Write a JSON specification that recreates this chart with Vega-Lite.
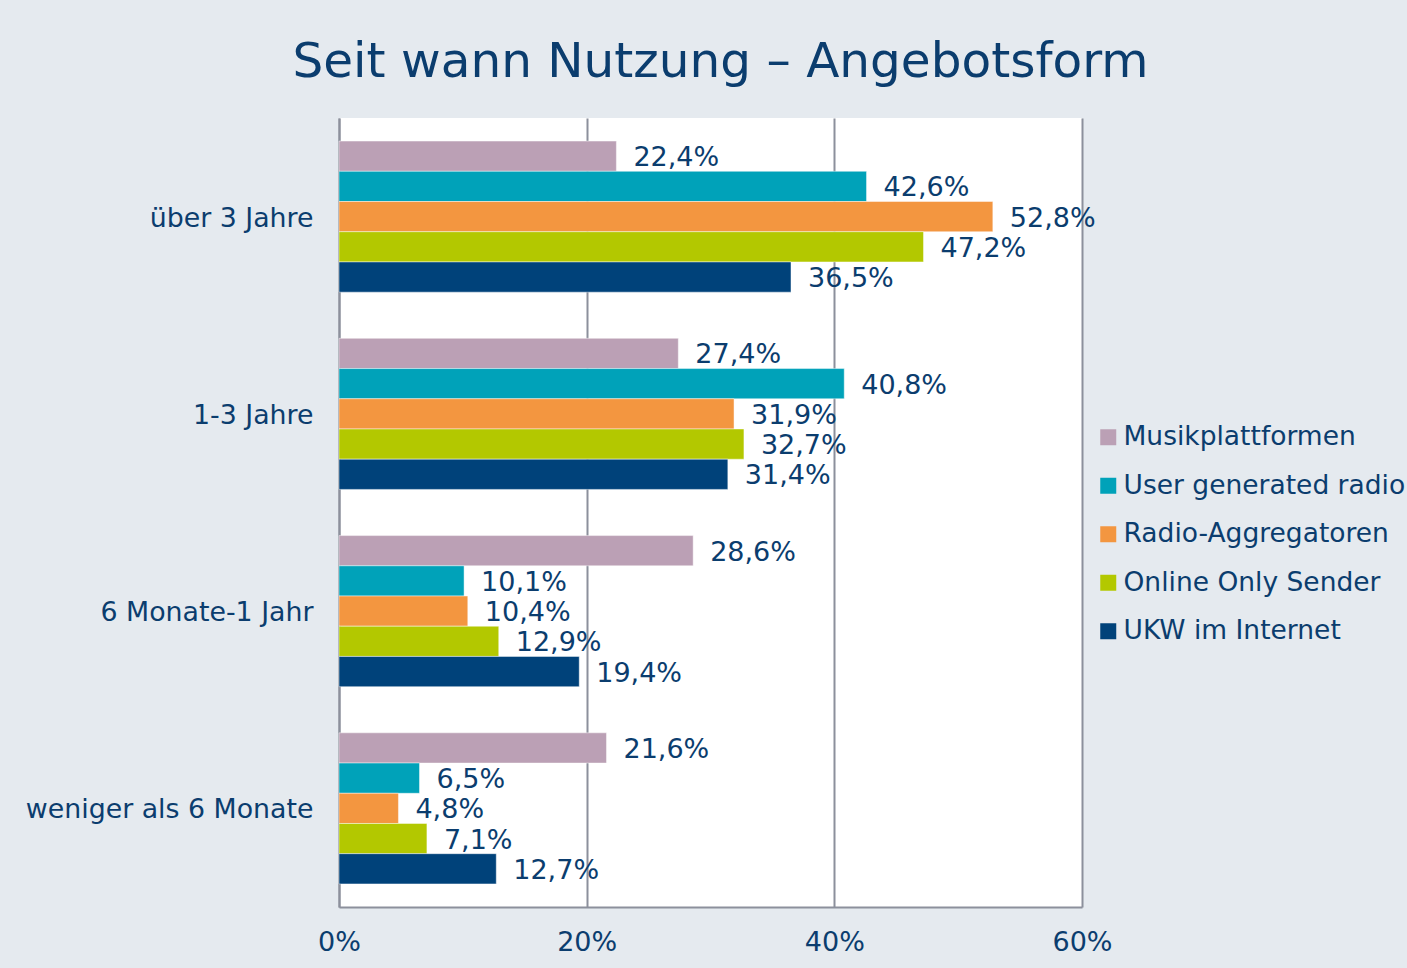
{
  "$schema": "https://vega.github.io/schema/vega-lite/v6.json",
  "width": 743,
  "height": 789,
  "autosize": {"type": "none"},
  "padding": {"left": 339, "top": 118, "right": 325, "bottom": 61},
  "background": "#e5eaef",
  "title": {
    "text": "Seit wann Nutzung – Angebotsform",
    "fontSize": 48.5,
    "font": "DejaVu Sans",
    "fontWeight": "normal",
    "color": "#0b3d6e",
    "anchor": "middle",
    "baseline": "alphabetic",
    "offset": 40,
    "dx": 10,
    "dy": 47
  },
  "config": {
    "locale": {"number": {"decimal": ",", "thousands": ".", "grouping": [3], "currency": ["", " €"]}},
    "view": {"fill": "white", "stroke": null},
    "font": "DejaVu Sans"
  },
  "data": {
    "values": [
      {"Zeitraum": "über 3 Jahre", "Angebot": "Musikplattformen", "Anteil": 0.224},
      {"Zeitraum": "über 3 Jahre", "Angebot": "User generated radio", "Anteil": 0.426},
      {"Zeitraum": "über 3 Jahre", "Angebot": "Radio-Aggregatoren", "Anteil": 0.528},
      {"Zeitraum": "über 3 Jahre", "Angebot": "Online Only Sender", "Anteil": 0.472},
      {"Zeitraum": "über 3 Jahre", "Angebot": "UKW im Internet", "Anteil": 0.365},
      {"Zeitraum": "1-3 Jahre", "Angebot": "Musikplattformen", "Anteil": 0.274},
      {"Zeitraum": "1-3 Jahre", "Angebot": "User generated radio", "Anteil": 0.408},
      {"Zeitraum": "1-3 Jahre", "Angebot": "Radio-Aggregatoren", "Anteil": 0.319},
      {"Zeitraum": "1-3 Jahre", "Angebot": "Online Only Sender", "Anteil": 0.327},
      {"Zeitraum": "1-3 Jahre", "Angebot": "UKW im Internet", "Anteil": 0.314},
      {"Zeitraum": "6 Monate-1 Jahr", "Angebot": "Musikplattformen", "Anteil": 0.286},
      {"Zeitraum": "6 Monate-1 Jahr", "Angebot": "User generated radio", "Anteil": 0.101},
      {"Zeitraum": "6 Monate-1 Jahr", "Angebot": "Radio-Aggregatoren", "Anteil": 0.104},
      {"Zeitraum": "6 Monate-1 Jahr", "Angebot": "Online Only Sender", "Anteil": 0.129},
      {"Zeitraum": "6 Monate-1 Jahr", "Angebot": "UKW im Internet", "Anteil": 0.194},
      {"Zeitraum": "weniger als 6 Monate", "Angebot": "Musikplattformen", "Anteil": 0.216},
      {"Zeitraum": "weniger als 6 Monate", "Angebot": "User generated radio", "Anteil": 0.065},
      {"Zeitraum": "weniger als 6 Monate", "Angebot": "Radio-Aggregatoren", "Anteil": 0.048},
      {"Zeitraum": "weniger als 6 Monate", "Angebot": "Online Only Sender", "Anteil": 0.071},
      {"Zeitraum": "weniger als 6 Monate", "Angebot": "UKW im Internet", "Anteil": 0.127}
    ]
  },
  "encoding": {
    "y": {
      "field": "Zeitraum",
      "type": "nominal",
      "sort": ["über 3 Jahre", "1-3 Jahre", "6 Monate-1 Jahr", "weniger als 6 Monate"],
      "scale": {"paddingInner": 0.234, "paddingOuter": 0.117},
      "axis": {
        "title": null,
        "ticks": false,
        "labelPadding": 26,
        "labelFontSize": 26.8,
        "labelLimit": 400,
        "labelOffset": 2,
        "labelColor": "#0b3d6e",
        "labelFont": "DejaVu Sans",
        "domainColor": "#8c909c",
        "domainWidth": 2
      }
    },
    "yOffset": {
      "field": "Angebot",
      "type": "nominal",
      "sort": ["Musikplattformen", "User generated radio", "Radio-Aggregatoren", "Online Only Sender", "UKW im Internet"],
      "scale": {"paddingInner": 0, "paddingOuter": 0}
    },
    "x": {
      "field": "Anteil",
      "type": "quantitative",
      "scale": {"domain": [0, 0.6], "nice": false},
      "axis": {
        "title": null,
        "values": [0, 0.2, 0.4, 0.6],
        "format": ".0%",
        "ticks": false,
        "labelFlush": false,
        "labelPadding": 22,
        "labelFontSize": 27,
        "labelColor": "#0b3d6e",
        "labelFont": "DejaVu Sans",
        "domainColor": "#8c909c",
        "domainWidth": 2,
        "grid": true,
        "gridColor": "#8c909c",
        "gridWidth": 2
      }
    }
  },
  "layer": [
    {
      "mark": {"type": "bar", "stroke": "white", "strokeWidth": 0.75, "strokeOpacity": 0.6},
      "encoding": {
        "color": {
          "field": "Angebot",
          "type": "nominal",
          "scale": {
            "domain": ["Musikplattformen", "User generated radio", "Radio-Aggregatoren", "Online Only Sender", "UKW im Internet"],
            "range": ["#bba0b5", "#00a2b9", "#f39640", "#b3c800", "#00427a"]
          },
          "legend": {
            "title": null,
            "orient": "none",
            "legendX": 756,
            "legendY": 306,
            "symbolType": "square",
            "symbolSize": 256,
            "symbolStrokeWidth": 0,
            "labelFontSize": 26.5,
            "labelFont": "DejaVu Sans",
            "labelColor": "#0b3d6e",
            "labelOffset": 2,
            "rowPadding": 21.5,
            "labelLimit": 400
          }
        }
      }
    },
    {
      "mark": {"type": "text", "align": "left", "baseline": "middle", "dx": 17, "dy": 2, "fontSize": 27, "font": "DejaVu Sans", "color": "#0b3d6e"},
      "encoding": {
        "text": {"field": "Anteil", "type": "quantitative", "format": ".1%"}
      }
    }
  ]
}
